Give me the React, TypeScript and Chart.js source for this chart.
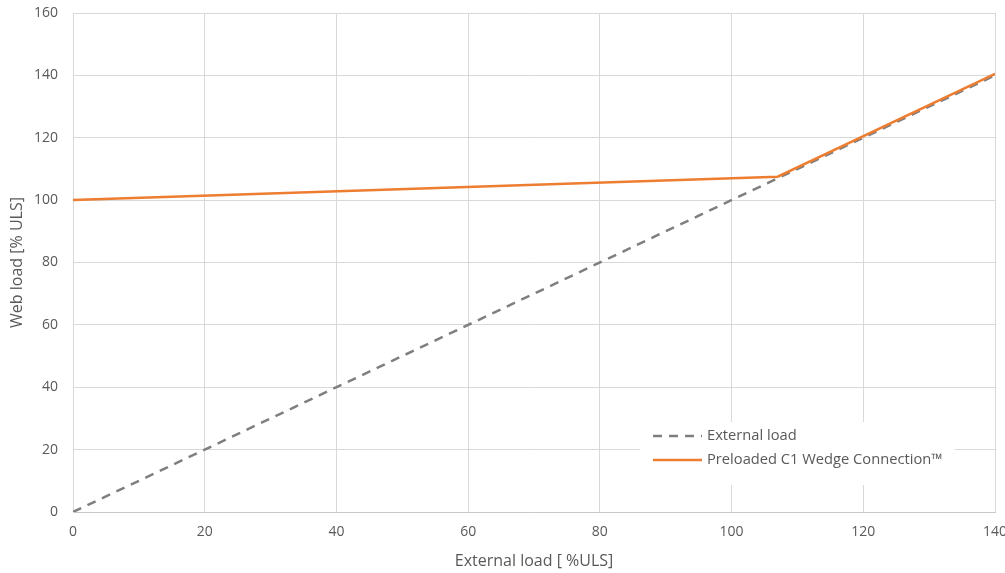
import React, { useEffect, useRef } from "react";
import { Chart, registerables } from "chart.js";

Chart.register(...registerables);

const externalX = [0, 140];
const externalY = [0, 140];
const preloadX = [0, 107, 140];
const preloadY = [100, 107.5, 140.5];
const xTicks = [0, 20, 40, 60, 80, 100, 120, 140];
const yTicks = [0, 20, 40, 60, 80, 100, 120, 140, 160];
const seriesNames = ["External load", "Preloaded C1 Wedge Connection™"];
const xTitle = "External load [ %ULS]";
const yTitle = "Web load [% ULS]";

const FONT = "'Open Sans', Lato, sans-serif";
const TEXT = "#595959";
const GRID = "#D9D9D9";
const ORANGE = "#ED7D31";
const GREY = "#7F7F7F";
const DASH = [9, 7];

const legendPlugin = {
  id: "boxLegend",
  afterDraw(chart: any) {
    const { ctx, chartArea } = chart;
    const boxL = chartArea.right - 355;
    const boxR = chartArea.right - 40;
    const boxT = chartArea.bottom - 90;
    const boxB = chartArea.bottom - 27;
    ctx.save();
    ctx.fillStyle = "#FFFFFF";
    ctx.fillRect(boxL, boxT, boxR - boxL, boxB - boxT);
    const items = [
      { label: seriesNames[0], color: GREY, dash: DASH },
      { label: seriesNames[1], color: ORANGE, dash: [] as number[] },
    ];
    items.forEach((it, i) => {
      const y = boxT + 14 + i * 24;
      ctx.beginPath();
      ctx.setLineDash(it.dash);
      ctx.strokeStyle = it.color;
      ctx.lineWidth = 2.5;
      ctx.moveTo(boxL + 13, y);
      ctx.lineTo(boxL + 62, y);
      ctx.stroke();
      ctx.setLineDash([]);
      ctx.fillStyle = TEXT;
      ctx.font = `14.7px ${FONT}`;
      ctx.textBaseline = "middle";
      ctx.textAlign = "left";
      ctx.fillText(it.label, boxL + 67, y);
    });
    ctx.restore();
  },
};

export default function App() {
  const ref = useRef<HTMLCanvasElement | null>(null);
  useEffect(() => {
    if (!ref.current) return;
    const chart = new Chart(ref.current, {
      type: "line",
      data: {
        datasets: [
          {
            label: seriesNames[0],
            data: externalX.map((x, i) => ({ x, y: externalY[i] })),
            borderColor: GREY,
            borderWidth: 2.5,
            borderDash: DASH,
            pointRadius: 0,
            fill: false,
            order: 1,
          },
          {
            label: seriesNames[1],
            data: preloadX.map((x, i) => ({ x, y: preloadY[i] })),
            borderColor: ORANGE,
            borderWidth: 2.5,
            pointRadius: 0,
            fill: false,
            order: 0,
          },
        ],
      },
      options: {
        animation: false,
        responsive: false,
        maintainAspectRatio: false,
        layout: { padding: { top: 13, right: 10, left: 0, bottom: 0 } },
        plugins: { legend: { display: false }, tooltip: { enabled: false } },
        scales: {
          x: {
            type: "linear",
            min: 0,
            max: 140,
            afterBuildTicks: (s: any) => {
              s.ticks = xTicks.map((v) => ({ value: v }));
            },
            afterFit: (s: any) => {
              s.height = 61;
              s.paddingRight = 0;
              s.paddingLeft = 0;
            },
            grid: { color: GRID, lineWidth: 1, drawTicks: false },
            border: { color: "#C8C8C8", width: 1 },
            ticks: { color: TEXT, font: { family: FONT, size: 14 }, padding: 12, maxRotation: 0 },
            title: {
              display: true,
              text: xTitle,
              color: TEXT,
              font: { family: FONT, size: 16 },
              padding: { top: 0, bottom: 2 },
            },
          },
          y: {
            type: "linear",
            min: 0,
            max: 160,
            afterBuildTicks: (s: any) => {
              s.ticks = yTicks.map((v) => ({ value: v }));
            },
            afterFit: (s: any) => {
              s.width = 73;
              s.paddingTop = 0;
              s.paddingBottom = 0;
            },
            grid: { color: GRID, lineWidth: 1, drawTicks: false },
            border: { color: GRID, width: 1 },
            ticks: { color: TEXT, font: { family: FONT, size: 14 }, padding: 15 },
            title: {
              display: true,
              text: yTitle,
              color: TEXT,
              font: { family: FONT, size: 16 },
              padding: { top: 8, bottom: 0 },
            },
          },
        },
      },
      plugins: [legendPlugin],
    });
    return () => chart.destroy();
  }, []);
  return (
    <div style={{ position: "fixed", left: 0, top: 0, width: 1005, height: 573, background: "#fff" }}>
      <canvas ref={ref} width={1005} height={573} style={{ width: 1005, height: 573, display: "block" }} />
    </div>
  );
}
